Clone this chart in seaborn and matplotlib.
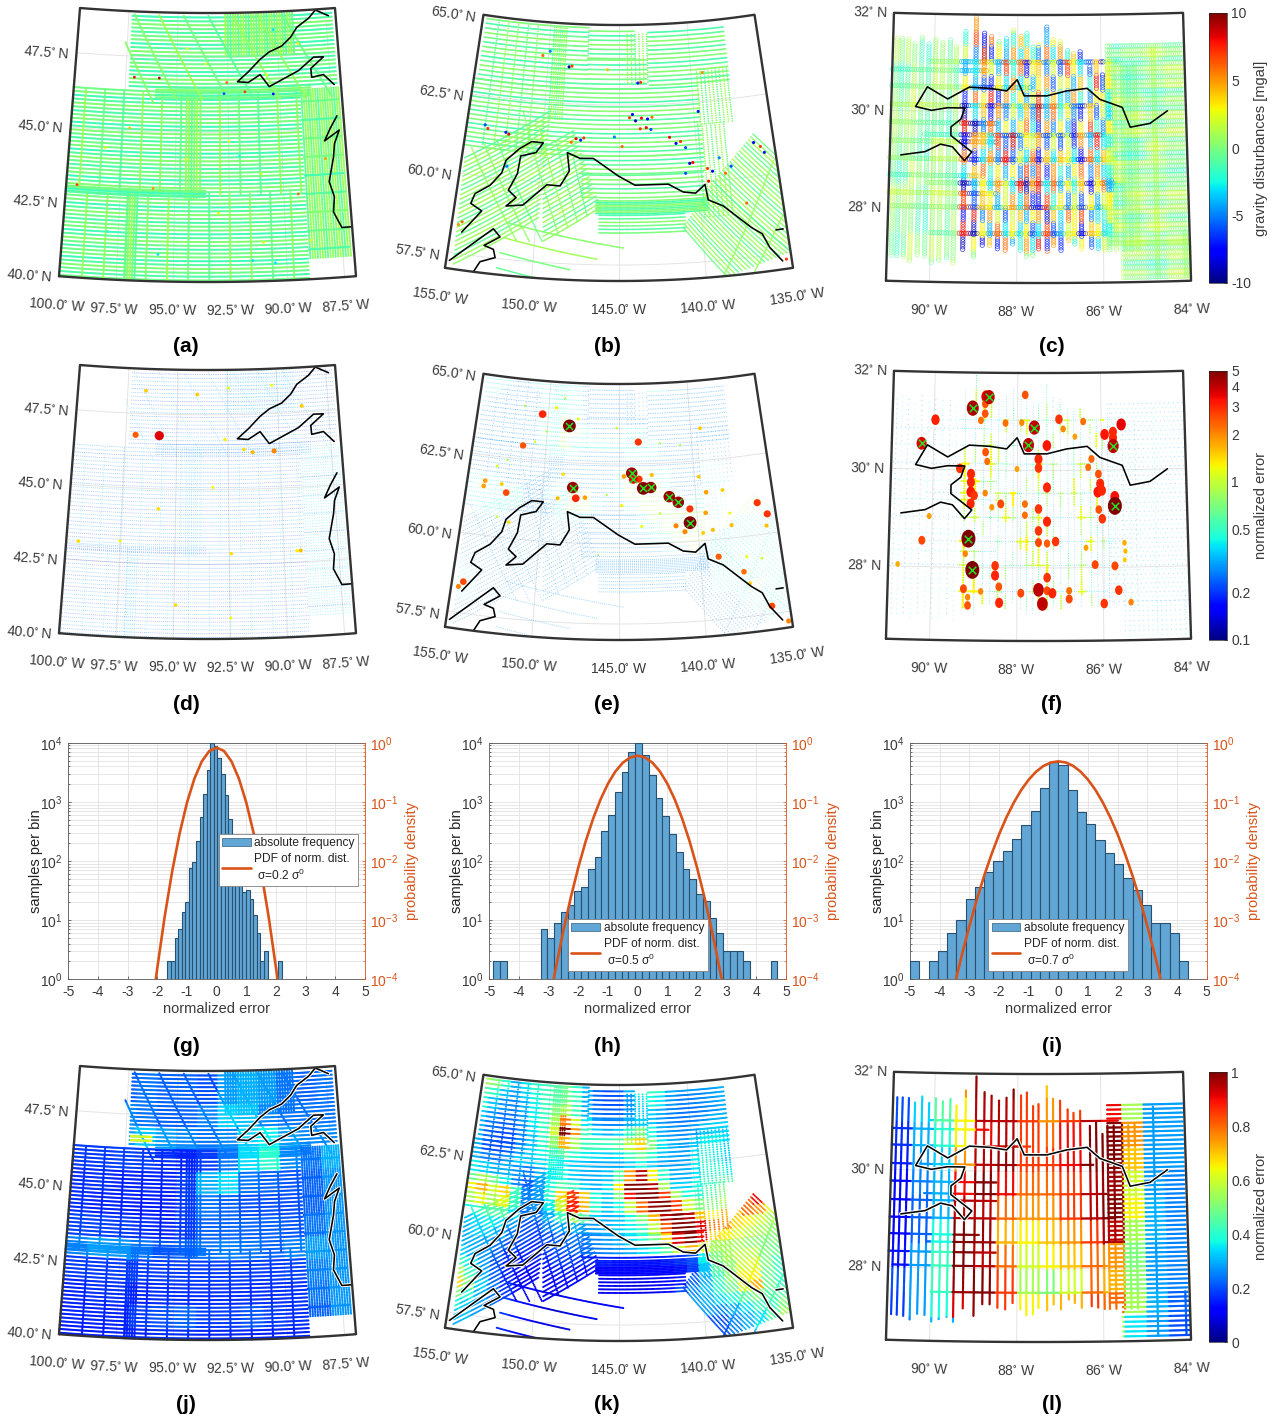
"""Gravity survey figure: four rows of maps and histograms over three survey regions."""

import matplotlib
matplotlib.use("Agg")
import matplotlib.pyplot as plt
import numpy as np
import seaborn as sns
from matplotlib.cm import ScalarMappable
from matplotlib.colors import LogNorm, Normalize
from matplotlib.lines import Line2D
from matplotlib.markers import MarkerStyle
from matplotlib.patches import Patch
from matplotlib.transforms import Affine2D

sns.set_theme(style="ticks")
plt.rcParams.update({
    "font.family": "Liberation Sans",
    "mathtext.fontset": "dejavusans",
    "mathtext.default": "regular",
    "axes.linewidth": 0.6,
    "axes.unicode_minus": False,
    "xtick.direction": "in",
    "ytick.direction": "in",
})

W, H = 1285, 1421
ORANGE = "#D95319"
BAR = "#62A6D6"
TEXT = "#3a3a3a"
JET = matplotlib.colormaps["jet"]


def rows(lat0, lat1, n, west, east):
    return ((west, lat0, east, lat0), (west, lat1, east, lat1), n, 0)


def ties(lon0, lon1, n, south, north):
    return ((lon0, south, lon0, north), (lon1, south, lon1, north), n, 1)


def slants(first, last, n):
    return (first, last, n, 1)


# ---------------------------------------------------------------- map frames
LAKES = {"lon": (-100.0, -87.0), "lat": (40.0, 49.0), "xc": 207.5, "apex": -1619.0, "r": (1901.0, 1632.0), "half": 0.0782}
ALASKA = {"lon": (-155.0, -135.0), "lat": (57.0, 65.0), "xc": 619.0, "apex": -876.0, "r": (1157.0, 901.0), "half": 0.1510}
GULF = {"lon": (-91.0, -84.0), "lat": (26.5, 32.0), "xc": 1038.5, "apex": -4828.0, "r": (5111.0, 4843.0), "half": 0.02985}

LAKE_LON_TICKS = [-100.0, -97.5, -95.0, -92.5, -90.0, -87.5]
LAKE_LAT_TICKS = [40.0, 42.5, 45.0, 47.5]
ALASKA_LON_TICKS = [-155.0, -150.0, -145.0, -140.0, -135.0]
ALASKA_LAT_TICKS = [57.5, 60.0, 62.5, 65.0]
GULF_LON_TICKS = [-90, -88, -86, -84]
GULF_LAT_TICKS = [28, 30, 32]

# ---------------------------------------------------------------- coastlines (lon, lat)
LAKE_COAST_1_LON = [-87.36, -88.01, -88.38, -89.0, -89.32, -89.8, -90.43, -90.9, -91.5, -92.04, -91.51, -90.92, -90.49, -89.03, -88.25, -87.76, -88.42, -88.4, -87.82, -87.33]
LAKE_COAST_1_LAT = [48.76, 48.98, 48.72, 48.44, 48.13, 47.84, 47.66, 47.42, 47.01, 46.69, 46.66, 46.91, 46.5, 46.99, 47.41, 47.4, 47.04, 46.74, 46.81, 46.45]
LAKE_COAST_2_LON = [-87.31, -87.67, -87.98, -87.25, -87.52, -87.61, -87.89, -87.7, -87.79, -87.46, -87.05]
LAKE_COAST_2_LAT = [45.4, 45.0, 44.59, 44.92, 44.48, 44.04, 43.22, 42.7, 42.2, 41.66, 41.66]

ALASKA_COAST_1_LON = [-154.34, -153.32, -154.04, -153.86, -153.0, -152.37, -152.19, -151.42, -150.66, -149.91, -150.33, -151.29, -151.39, -151.85, -151.33, -151.89, -150.88, -149.5, -148.67, -148.14, -148.32, -147.5, -146.64, -145.04, -144.0, -141.92, -141.02, -140.26, -139.64, -139.52, -138.64, -137.08, -136.5, -136.16, -135.53]
ALASKA_COAST_1_LAT = [58.18, 58.92, 59.11, 59.43, 59.75, 60.18, 60.58, 60.98, 61.24, 61.23, 60.91, 60.76, 60.2, 59.66, 59.45, 59.16, 59.24, 59.93, 59.92, 60.4, 60.97, 60.81, 60.82, 60.28, 59.99, 59.99, 59.72, 59.66, 59.91, 59.42, 59.19, 58.42, 58.19, 57.73, 57.26]
ALASKA_COAST_2_LON = [-154.81, -152.5, -152.05, -152.93, -152.36, -152.21, -153.05, -153.36]
ALASKA_COAST_2_LAT = [57.25, 58.41, 58.18, 57.86, 57.77, 57.52, 57.34, 57.0]
ALASKA_COAST_3_LON = [-135.66, -135.23]
ALASKA_COAST_3_LAT = [58.25, 58.25]

GULF_COAST_LON = [-90.74, -90.17, -89.81, -89.53, -89.24, -89.07, -89.57, -89.57, -89.34, -89.25, -89.66, -90.04, -90.42, -90.15, -89.66, -89.15, -88.66, -88.26, -88.01, -87.84, -87.3, -86.83, -86.34, -86.04, -85.51, -85.33, -84.86, -84.44]
GULF_COAST_LAT = [29.09, 29.17, 29.33, 29.28, 29.0, 29.18, 29.51, 29.69, 29.85, 30.08, 30.08, 30.02, 30.09, 30.5, 30.26, 30.51, 30.49, 30.44, 30.67, 30.34, 30.34, 30.44, 30.49, 30.26, 30.09, 29.68, 29.75, 30.0]

# ---------------------------------------------------------------- survey tracks
LAKE_BANDS = [
    rows(40.05, 46.35, 50, -100.0, -89.05),
    rows(46.5, 48.85, 19, -97.3, -87.2),
    ties(-99.0, -89.7, 11, 40.0, 42.95),
    ties(-99.4, -89.2, 12, 42.9, 46.3),
    ties(-97.15, -96.7, 5, 40.0, 42.95),
    ties(-94.5, -94.0, 5, 42.8, 46.3),
    rows(42.85, 43.05, 3, -100.0, -93.6),
    rows(46.15, 46.5, 5, -96.0, -88.5),
    ties(-88.95, -87.15, 17, 40.7, 46.35),
    rows(41.0, 45.95, 9, -89.0, -87.2),
    ties(-92.6, -89.2, 27, 47.6, 48.95),
    slants((-97.2, 48.9, -95.0, 46.1), (-89.7, 48.9, -87.5, 46.1), 7),
    slants((-97.6, 47.95, -96.1, 45.95), (-97.6, 47.95, -96.1, 45.95), 1),
]

ALASKA_BANDS = [
    rows(60.9, 63.0, 16, -154.9, -139.6),
    rows(60.35, 60.9, 5, -147.5, -139.6),
    rows(63.0, 64.9, 14, -154.7, -147.2),
    rows(63.0, 63.9, 7, -147.2, -143.1),
    rows(63.95, 64.8, 7, -147.2, -143.9),
    rows(63.1, 64.75, 13, -142.9, -137.4),
    rows(59.6, 60.3, 6, -147.3, -139.7),
    rows(59.1, 59.5, 9, -146.4, -139.6),
    rows(58.5, 59.05, 6, -146.2, -141.0),
    ties(-144.4, -143.0, 6, 63.2, 64.7),
    ties(-149.7, -148.8, 7, 62.0, 64.85),
    ties(-153.8, -150.9, 5, 61.0, 64.9),
    ties(-139.6, -137.5, 9, 61.8, 63.5),
    ties(-139.8, -138.1, 7, 58.9, 61.8),
    slants((-154.8, 60.5, -149.6, 62.24), (-154.55, 57.16, -149.88, 58.89), 24),
    slants((-149.89, 61.08, -148.0, 61.66), (-149.48, 58.17, -146.16, 59.29), 21),
    slants((-136.25, 61.31, -135.05, 60.59), (-139.11, 59.99, -135.0, 57.53), 18),
    slants((-139.11, 59.99, -135.0, 57.53), (-141.14, 58.61, -138.83, 57.0), 18),
    slants((-151.41, 62.17, -148.62, 58.41), (-147.92, 60.82, -146.96, 59.07), 4),
    slants((-154.46, 60.83, -151.05, 58.1), (-152.9, 61.15, -149.57, 58.17), 3),
    slants((-151.74, 58.65, -144.75, 58.03), (-152.05, 57.21, -149.42, 56.97), 4),
    slants((-139.02, 57.0, -135.22, 60.4), (-137.19, 57.06, -135.1, 58.7), 2),
]

GULF_LINE_LON = [-90.9, -90.77, -90.62, -90.47, -90.3, -90.13, -89.97, -89.8, -89.62, -89.47, -89.25, -89.0, -88.8, -88.63, -88.45, -88.27, -88.1, -87.92, -87.78, -87.63, -87.5, -87.3, -87.15, -86.98, -86.8, -86.66, -86.5, -86.27, -86.12, -85.97, -85.85, -85.7, -85.5, -85.35, -85.2]
GULF_LINE_NORTH = [31.48, 31.48, 31.47, 31.38, 31.51, 31.38, 31.48, 31.42, 31.47, 31.34, 31.65, 31.94, 31.62, 31.55, 31.45, 31.51, 31.68, 31.56, 31.62, 31.34, 31.38, 31.75, 31.49, 31.45, 31.27, 31.2, 31.24, 30.93, 31.0, 30.76, 30.93, 30.93, 30.97, 30.93, 30.97]
GULF_LINE_SOUTH = [27.03, 27.02, 27.0, 26.93, 27.05, 27.03, 26.9, 26.95, 27.0, 26.9, 27.18, 27.03, 27.27, 27.27, 27.2, 27.17, 27.3, 27.17, 27.05, 27.07, 27.2, 27.15, 27.27, 27.17, 27.37, 27.3, 27.2, 27.23, 27.2, 27.17, 27.17, 27.17, 27.17, 27.17, 27.17]
GULF_TIE_LAT = [31.03, 30.85, 30.51, 30.13, 29.77, 29.53, 29.39, 29.03, 28.69, 28.54, 28.33, 28.05, 27.51]
GULF_TIE_WEST = [-90.1, -91.0, -91.0, -91.0, -91.0, -90.2, -91.0, -91.0, -91.0, -90.1, -91.0, -90.9, -90.0]
GULF_TIE_EAST = [-85.6, -88.7, -87.7, -86.2, -88.5, -85.9, -88.5, -85.7, -88.9, -85.5, -88.5, -85.9, -85.9]

GULF_BANDS = [ties(lon, lon, 1, south, north) for lon, south, north in zip(GULF_LINE_LON, GULF_LINE_SOUTH, GULF_LINE_NORTH)]
GULF_BANDS += [rows(lat, lat, 1, west, east) for lat, west, east in zip(GULF_TIE_LAT, GULF_TIE_WEST, GULF_TIE_EAST)]
GULF_BANDS += [
    rows(27.3, 31.35, 45, -85.85, -84.05),
    rows(26.6, 27.3, 8, -85.55, -84.02),
    ties(-84.75, -84.75, 1, 26.6, 31.3),
    ties(-84.1, -84.1, 1, 26.6, 27.5),
]

# small along-track offsets read as the alternation between neighbouring tracks
TRACK_OFFSET = [0.5, -0.8, 0.2, 1.1, -0.4, -1.2, 0.7]

# ---------------------------------------------------------------- gravity disturbance anomalies
A_HOT_LON = [-97.08, -95.86, -92.56, -91.68, -92.7, -90.31, -89.34, -99.5, -94.5, -93.6, -90.6, -89.0, -90.2, -92.5, -94.5, -91.0, -95.7, -90.5, -91.5, -98.0, -97.2, -96.0, -92.0, -98.3, -88.9, -91.0, -93.0, -88.0]
A_HOT_LAT = [46.8, 46.8, 46.67, 46.35, 46.3, 46.25, 42.87, 43.1, 47.8, 47.3, 46.9, 47.9, 48.4, 44.7, 44.1, 43.6, 40.9, 40.6, 40.7, 41.6, 45.1, 43.1, 44.2, 44.4, 41.3, 41.3, 42.3, 44.0]
A_HOT_VAL = [8, 9, 6, 7, -6, -8, 6, 7, 2.5, 2.5, 2.5, 3, -3, 2.5, 2.5, 2.5, -3, -3, -3, -2, 4, 5, -2.5, 3, 2.5, 3, 3, 5]

B_HOT_LON = [-148.5, -148.3, -149.9, -144.1, -144.3, -143.9, -143.5, -143.1, -142.8, -143.6, -142.9, -143.2, -143.7, -143.5, -147.8, -147.5, -148.1, -147.3, -141.7, -141.3, -141.0, -140.7, -140.5, -140.3, -140.8, -139.4, -139.1, -139.4, -138.6, -138.3, -137.9, -136.3, -135.9, -135.7, -137.2, -153.8, -153.6, -152.4, -152.2, -154.4, -154.6, -135.3, -152.1, -139.7, -139.2, -150.4, -145.8, -145.3, -144.8]
B_HOT_LAT = [63.65, 63.68, 64.1, 62.2, 62.1, 62.0, 62.08, 62.05, 62.1, 61.75, 61.72, 61.78, 63.18, 63.2, 61.42, 61.38, 61.3, 61.45, 61.45, 61.25, 61.3, 61.1, 60.6, 60.62, 60.3, 60.4, 60.3, 60.0, 60.7, 60.2, 60.4, 61.05, 60.9, 60.7, 59.2, 61.6, 61.5, 61.45, 61.4, 58.5, 58.4, 57.3, 60.4, 62.2, 63.4, 63.95, 63.6, 61.5, 61.2]
B_HOT_VAL = [-10, 7, -5, -8, 7, -9, 8, -8, 6, 7, -6, 8, -7, 7, 8, -7, 6, 7, 8, -8, 7, -6, -9, 8, -6, 7, -8, 8, -5, 6, -6, -8, 7, -7, 6, -6, 7, -7, 8, 6, 5, 7, -5, -7, 5, 6, 4, -5, 6]

# panel (c): one column per survey line between -89.25 and -85.85, one row every 0.3 deg of latitude from 31.8
C_GRID = np.array([
    [0, 5, -3, 0, 0, 0, 3, 0, 0, 0, 0, -5, 0, 0, 0, 0, 0, 0, 0, 0, 0],
    [-2, 7, -8, 6, 0, -3, -2, 4, -2, 1, 3, -4, 3, 2, 0, 0, 0, 0, 0, 0, 0],
    [2, -5, 9, -7, 3, -4, 5, -3, 4, -2, -5, 6, -3, 5, -2, 4, -7, 0, 0, 0, 0],
    [-4, -3, 5, 2, -4, 7, -2, 6, -8, 3, 4, -5, 2, -6, 7, 3, -3, -6, 4, -8, 2],
    [3, -4, -6, -7, 3, -3, 5, -3, 2, -4, 3, 5, -6, 2, 3, -4, 4, -2, 8, -6, 3],
    [-7, 6, 3, 8, -7, 5, -2, 3, -4, 2, 7, -3, 4, -3, -4, 5, -2, -5, 3, 3, -2],
    [-9, -3, 4, -8, 5, -5, 2, -3, 4, -5, 9, -4, 6, -2, 3, -5, -7, 4, -6, 2, -3],
    [8, -9, -5, 6, -4, 3, -4, 3, 6, -3, -7, 5, -5, 3, -4, -8, 3, 7, -2, -5, 3],
    [-8, 5, 4, -3, 7, -6, 9, -5, 3, 2, 5, -6, 2, -6, 2, -7, 5, -4, 8, -3, -2],
    [6, -7, -3, 5, -5, 8, -6, 2, -3, 6, -8, 4, -3, 4, 3, -3, -8, 6, -3, 4, 2],
    [-3, 4, 6, -2, 3, -4, 3, -5, 7, -5, 7, -7, 5, -2, -4, 3, 6, -5, 5, -3, -2],
    [-9, -4, 3, -3, 5, 2, -3, 8, -9, 5, 8, -3, 6, -4, 3, -2, 4, -8, 3, 6, -4],
    [7, -6, 4, 3, -4, 2, 5, -3, 6, -7, -8, 7, -2, 3, -5, 2, -6, 3, -4, 2, 3],
    [-8, 8, -5, 5, 2, -6, 2, 4, -4, 3, 5, -9, 4, -3, 6, 3, 7, -5, -3, -2, 2],
    [8, -9, 3, -4, 6, -3, 3, -3, 3, -6, -3, 7, -6, -4, 2, 3, -8, 4, 3, -3, -2],
    [-9, 3, -8, 4, -7, 6, -4, -2, 5, -3, 8, -7, 5, -7, 4, -2, 3, -6, -3, 2, 0],
    [6, 0, 0, 0, 0, -5, 3, 0, 0, 0, -5, 6, 0, 0, 0, 0, 0, 0, 0, 0, 0],
])
C_PALE = np.array([
    [0, 1, -1, 0, 1, 0, 0, 1, 0, -1, 0, 1, 0, -1],
    [1, -1, 0, 1, 0, 0, -1, 0, 1, 0, -1, 0, 1, 0],
    [-1, 0, 1, -1, 0, 1, 0, 0, -1, 1, 0, -1, 0, 1],
    [0, 1, 0, 1, -1, 0, 1, -1, 0, 0, 1, 0, -1, 0],
    [1, 0, -1, 0, 1, -1, 0, 1, 0, -1, 0, 1, 0, 1],
    [0, -1, 1, 1, 0, 0, -1, 0, 1, 1, 0, -1, 1, 0],
    [-1, 1, 0, -1, 1, 1, 0, -1, 0, 0, 1, 0, 0, -1],
    [1, 0, 1, 0, -1, 0, 1, 0, -1, 1, -1, 1, 0, 1],
    [0, -1, 0, 1, 0, -1, 0, 1, 1, 0, 1, 0, 1, 0],
    [-1, 1, 1, 0, -1, 0, 1, 0, 0, -1, 0, 1, 0, 1],
    [1, 0, -1, 1, 0, 1, -1, 1, 0, 1, 1, 0, -1, 1],
])

# ---------------------------------------------------------------- normalized error dots
D_HOT_LON = [-95.86, -97.02, -90.27, -91.31, -91.73, -92.65, -89.23, -89.4, -99.45, -97.53, -96.59, -94.01, -92.45, -90.26, -88.81, -93.25, -95.81, -92.41, -94.92, -92.47]
D_HOT_LAT = [46.78, 46.78, 46.25, 46.23, 46.33, 46.67, 42.88, 42.88, 43.12, 43.21, 48.27, 48.18, 48.39, 48.45, 47.71, 45.07, 44.33, 42.85, 41.13, 40.7]
D_HOT_VAL = [3.6, 2.4, 2.0, 1.6, 1.4, 1.3, 1.6, 1.3, 1.4, 1.2, 1.5, 1.5, 1.2, 1.2, 1.5, 1.2, 1.4, 1.4, 1.4, 1.2]

E_CROSS_LON = [-148.48, -144.15, -144.05, -143.4, -142.91, -148.05, -141.72, -141.15, -140.48]
E_CROSS_LAT = [63.65, 62.21, 62.02, 61.73, 61.75, 61.73, 61.44, 61.25, 60.59]
E_CROSS_VAL = [5, 4.5, 3.5, 5, 4.5, 4.5, 4.5, 4.5, 5]
E_HOT_LON = [-150.42, -151.58, -143.67, -147.82, -152.37, -153.83, -153.88, -152.72, -143.67, -142.82, -135.54, -136.08, -140.43, -141.38, -140.84, -139.3, -139.44, -139.08, -138.22, -137.87, -138.87, -137.43, -136.03, -135.2, -154.32, -154.57, -147.22, -149.0, -148.72, -144.67, -139.7, -139.34, -152.0, -137.15, -135.69, -149.46, -147.88, -145.16, -142.17, -140.8, -144.83, -142.37, -145.8, -143.56, -137.9, -137.16, -136.25, -152.54, -153.17, -152.8, -150.03, -150.78, -151.72, -148.9, -146.28, -139.7, -140.6]
E_HOT_LAT = [63.96, 62.93, 63.18, 61.4, 61.41, 61.7, 61.53, 61.66, 62.02, 62.14, 60.61, 61.0, 61.02, 60.52, 60.32, 61.5, 60.86, 60.31, 61.52, 60.4, 59.46, 58.91, 57.74, 57.2, 58.48, 58.31, 61.43, 61.37, 62.13, 62.11, 62.0, 63.51, 60.5, 58.53, 60.25, 64.19, 63.88, 63.62, 63.12, 63.03, 61.2, 60.93, 61.53, 60.54, 60.78, 59.37, 59.26, 62.43, 62.2, 60.63, 63.43, 63.08, 64.17, 64.5, 59.65, 60.24, 60.5]
E_HOT_VAL = [3, 2.5, 2.8, 3, 2.6, 1.8, 1.8, 1.5, 2.8, 1.6, 2.8, 2.8, 2.8, 2, 2, 1.8, 1.8, 1.6, 1.5, 1.6, 2.4, 2.2, 2.6, 2, 2.6, 2, 1.8, 1.6, 1.4, 1.8, 1.5, 1.5, 1.4, 1.5, 1.6, 1.3, 1.2, 1.0, 0.9, 0.9, 1.3, 1.0, 0.9, 1.2, 1.2, 1.2, 1.1, 0.9, 1.1, 1.0, 0.9, 1.0, 0.9, 0.9, 0.8, 1.5, 1.5]

F_CROSS_LON = [-89.14, -89.04, -85.7, -89.08, -88.69, -90.29, -87.6, -87.74, -85.72]
F_CROSS_LAT = [28.59, 27.95, 29.26, 31.27, 31.5, 30.53, 30.88, 30.52, 30.49]
F_CROSS_VAL = [5, 5, 5, 4.3, 4, 3.6, 4, 4, 4]
F_HOT_LON = [-88.76, -89.97, -85.52, -85.92, -85.72, -85.72, -87.5, -87.5, -87.3, -87.5, -87.3, -87.5, -87.5, -87.3, -87.1, -87.01, -87.3, -87.82, -88.78, -88.78, -88.88, -89.1, -89.1, -89.1, -89.1, -89.02, -88.76, -88.72, -88.29, -87.9, -90.23, -89.22, -89.21, -88.51, -88.51, -88.42, -88.41, -89.14, -87.5, -87.41, -87.3, -87.3, -87.18, -86.79, -86.79, -87.91, -85.64, -85.98, -85.36, -85.72, -86.18, -86.39, -86.04, -86.1, -86.0, -86.08, -86.0, -86.08, -85.7, -86.24, -86.32, -86.91, -86.43, -86.63, -88.76, -88.39, -87.82, -87.82, -88.6, -89.37, -89.24, -89.14, -88.84, -90.07, -90.78, -88.01, -85.49, -85.47, -85.49]
F_HOT_LAT = [31.51, 31.02, 30.93, 30.73, 30.78, 30.66, 30.23, 30.05, 29.65, 29.21, 28.95, 28.76, 28.52, 28.5, 28.54, 31.05, 30.51, 31.55, 31.36, 31.16, 31.02, 29.92, 29.75, 29.55, 29.31, 29.48, 30.37, 30.18, 30.97, 30.98, 28.54, 28.49, 28.28, 28.04, 27.84, 27.61, 27.28, 27.22, 27.55, 27.26, 27.8, 27.53, 27.48, 27.36, 27.53, 27.48, 27.53, 27.26, 27.28, 28.03, 28.06, 28.41, 29.72, 29.55, 29.58, 29.92, 29.0, 29.19, 29.45, 30.23, 30.06, 30.85, 31.0, 30.69, 29.53, 29.31, 29.31, 29.08, 29.24, 30.03, 27.56, 27.39, 27.51, 29.04, 28.04, 30.03, 28.5, 28.33, 28.15]
F_HOT_VAL = [3.6, 3.1, 3.5, 3.2, 3, 3, 3, 2.8, 3, 2.8, 3, 2.8, 2.6, 2.4, 2.8, 2.8, 3.2, 2.5, 2.5, 2.5, 2.2, 3, 3, 3.2, 3, 2.8, 2.5, 2.2, 2.2, 2, 2.6, 2, 2, 2.8, 3, 2.5, 3, 2.5, 4, 4, 2.8, 2.6, 3, 2.6, 2.2, 2.6, 2.8, 2.8, 2, 2.6, 2.6, 1.8, 3, 3.2, 3, 2.5, 2.8, 2.5, 3.3, 2.3, 2.2, 2, 2.2, 1.8, 2, 2.6, 2.2, 2.2, 1.9, 2.8, 2.6, 2, 2, 1.8, 1.7, 1.8, 1.7, 1.6, 1.5]
# |gravity disturbance| 0..10 -> typical error seen on the central lines of panel (f)
F_LEVELS = [0.3, 0.3, 0.3, 0.32, 0.4, 0.6, 0.8, 1.0, 1.15, 1.3, 1.5]

# ---------------------------------------------------------------- formal errors, cells read off (j), (k), (l)
# rows from north to south, columns from west to east
J_GRID = np.array([
    [.22, .22, .22, .24, .22, .22, .20, .28, .30, .28, .24, .22, .24],
    [.24, .26, .26, .24, .22, .22, .25, .33, .32, .26, .24, .24, .24],
    [.28, .28, .28, .32, .28, .26, .24, .26, .33, .36, .28, .26, .26],
    [.18, .18, .19, .18, .17, .16, .18, .24, .34, .40, .26, .24, .30],
    [.17, .17, .16, .16, .16, .18, .30, .34, .24, .22, .21, .22, .27],
    [.17, .16, .16, .15, .15, .18, .24, .22, .20, .20, .20, .22, .27],
    [.19, .19, .18, .17, .16, .18, .22, .22, .22, .22, .21, .24, .27],
    [.25, .28, .27, .24, .21, .22, .24, .25, .24, .22, .25, .28, .27],
    [.18, .18, .18, .18, .18, .18, .18, .18, .18, .18, .19, .25, .27],
    [.16, .17, .17, .16, .17, .17, .17, .17, .17, .17, .17, .24, .27],
    [.16, .16, .16, .18, .20, .22, .18, .18, .21, .18, .17, .22, .27],
    [.15, .15, .16, .16, .17, .17, .16, .16, .16, .16, .16, .22, .22],
])
# rows every 1/3 deg from 64.83 N, columns every 0.75 deg from 154.75 W
K_GRID = np.array([
    [.55, .5, .4, .3, .35, .4, .42, .45, .48, .4, .3, .22, .2, .22, .3, .38, .42, .4, .3, .28, .28, .28, .28, .3, .3, .3, .3],
    [.45, .4, .32, .28, .33, .38, .42, .45, .48, .42, .3, .22, .2, .2, .27, .35, .38, .35, .28, .25, .25, .26, .28, .3, .3, .3, .3],
    [.4, .32, .27, .25, .3, .36, .42, .5, .55, .42, .3, .24, .22, .22, .27, .33, .33, .3, .26, .24, .24, .25, .27, .3, .3, .3, .3],
    [.33, .27, .24, .24, .28, .36, .42, .55, .78, .6, .35, .27, .25, .26, .3, .33, .32, .28, .25, .24, .25, .27, .3, .3, .3, .3, .3],
    [.3, .24, .22, .22, .26, .34, .42, .6, 1.0, .75, .42, .33, .3, .33, .42, .5, .38, .3, .27, .26, .28, .32, .33, .33, .3, .3, .3],
    [.3, .22, .2, .2, .25, .32, .4, .52, .72, .55, .42, .42, .42, .45, .58, .68, .5, .35, .3, .28, .32, .36, .36, .34, .3, .3, .3],
    [.3, .2, .2, .22, .28, .33, .37, .42, .45, .4, .36, .34, .33, .35, .42, .48, .4, .32, .29, .28, .34, .38, .36, .33, .3, .3, .3],
    [.3, .25, .24, .28, .33, .32, .35, .38, .36, .33, .32, .3, .3, .3, .33, .38, .33, .29, .28, .29, .36, .4, .36, .33, .3, .3, .3],
    [.36, .33, .3, .3, .27, .25, .3, .36, .38, .33, .3, .3, .32, .45, .75, .95, .65, .4, .3, .3, .35, .4, .4, .36, .35, .35, .35],
    [.48, .55, .48, .36, .25, .22, .28, .38, .45, .42, .33, .3, .35, .65, 1.0, 1.0, .95, .55, .33, .33, .38, .42, .45, .45, .45, .5, .5],
    [.65, .72, .6, .68, .42, .25, .28, .4, .68, .85, .7, .38, .33, .5, .9, 1.0, 1.0, .85, .55, .38, .4, .45, .5, .55, .6, .7, .75],
    [.55, .62, .55, .62, .42, .25, .27, .36, .6, .88, .72, .4, .32, .38, .58, .8, .98, 1.0, .85, .6, .5, .5, .55, .65, .8, .9, .75],
    [.38, .42, .45, .45, .35, .24, .24, .3, .42, .55, .45, .33, .3, .32, .38, .5, .72, .95, 1.0, .95, .7, .65, .72, .7, .8, .75, .62],
    [.32, .34, .36, .34, .28, .2, .2, .25, .28, .3, .28, .28, .3, .33, .36, .42, .58, .82, 1.0, 1.0, .92, .78, .75, .68, .65, .6, .55],
    [.3, .33, .33, .3, .24, .2, .18, .2, .22, .24, .24, .26, .28, .3, .34, .38, .48, .68, .92, 1.0, .9, .68, .65, .62, .58, .55, .52],
    [.3, .3, .28, .24, .2, .18, .16, .18, .2, .22, .23, .24, .25, .27, .3, .34, .38, .46, .6, .72, .62, .55, .55, .55, .52, .5, .5],
    [.33, .3, .27, .22, .17, .15, .15, .16, .18, .18, .17, .15, .15, .14, .14, .14, .14, .15, .17, .2, .36, .5, .55, .58, .58, .5, .48],
    [.42, .36, .28, .2, .15, .14, .13, .14, .15, .15, .13, .12, .11, .11, .11, .11, .11, .12, .14, .18, .32, .45, .52, .6, .62, .5, .42],
    [.55, .42, .3, .22, .16, .13, .12, .12, .13, .13, .12, .1, .1, .09, .09, .09, .1, .11, .15, .22, .3, .42, .52, .65, .65, .48, .42],
    [.68, .5, .33, .24, .17, .13, .11, .1, .09, .1, .1, .1, .1, .1, .1, .1, .1, .14, .2, .26, .32, .4, .48, .6, .72, .48, .42],
    [.5, .4, .3, .24, .18, .14, .11, .09, .08, .09, .1, .1, .11, .12, .12, .13, .15, .18, .24, .28, .3, .34, .38, .45, .5, .45, .45],
    [.38, .33, .28, .24, .18, .14, .11, .08, .07, .08, .09, .1, .12, .14, .15, .17, .2, .24, .28, .28, .28, .26, .3, .35, .42, .42, .5],
    [.32, .32, .28, .24, .18, .14, .11, .09, .08, .08, .09, .1, .12, .14, .16, .18, .22, .25, .28, .22, .2, .2, .26, .3, .35, .45, .55],
    [.3, .3, .25, .22, .16, .13, .1, .08, .08, .08, .09, .1, .12, .14, .16, .18, .2, .22, .24, .2, .18, .2, .25, .3, .36, .48, .6],
])
L_GRID = np.array([
    [.20, .35, .45, .75, .98, 1.0, .85, .70, .80, .90, .95, .80, .28, .28],
    [.20, .33, .45, .65, .95, .95, .85, .75, .85, .95, .90, .55, .28, .28],
    [.17, .30, .40, .65, .90, .95, .85, .80, .90, 1.0, 1.0, .75, .28, .28],
    [.15, .28, .33, .75, .95, .98, .85, .85, .90, 1.0, 1.0, .70, .28, .28],
    [.13, .25, .30, .90, 1.0, .90, .80, .80, .85, .95, .98, .60, .28, .25],
    [.12, .22, .30, .95, .95, .80, .75, .75, .85, .95, 1.0, .65, .30, .25],
    [.12, .22, .38, 1.0, .98, .72, .65, .70, .75, .85, .95, .55, .30, .25],
    [.14, .28, .42, 1.0, .95, .80, .60, .65, .70, .80, .75, .50, .28, .25],
    [.20, .28, .42, .98, 1.0, .85, .55, .50, .60, .80, .72, .52, .28, .25],
    [.18, .28, .38, .92, .98, .85, .65, .70, .72, .85, .80, .55, .30, .22],
    [.20, .25, .30, .30, .30, .30, .30, .30, .30, .30, .55, .35, .28, .20],
])

# ---------------------------------------------------------------- histograms
G_START, G_WIDTH = -1.66, 0.1205
G_COUNTS = [2, 2, 5, 7, 14, 20, 75, 97, 218, 545, 1350, 3400, 9800, 8900, 5500, 2900, 1300, 510, 220, 110, 60, 30, 32, 23, 12, 6, 2, 3, 0, 0, 0, 2]
H_START, H_WIDTH = -4.87, 0.228
H_COUNTS = [2, 2, 0, 0, 0, 0, 0, 7, 5, 9, 14, 18, 31, 36, 72, 117, 316, 590, 1450, 3150, 7000, 9700, 6300, 2800, 1170, 570, 290, 140, 73, 50, 28, 21, 11, 6, 3, 3, 3, 2, 0, 0, 0, 2]
I_START, I_WIDTH = -5.0, 0.3125
I_COUNTS = [2, 0, 2, 3, 6, 10, 23, 37, 66, 100, 145, 240, 410, 700, 1700, 4700, 4200, 1600, 670, 430, 230, 135, 90, 52, 32, 18, 9, 9, 6, 2]

G_PDF_X = [0, .25, .5, .75, 1, 1.25, 1.5, 1.75, 2, 2.05]
G_PDF_Y = [.826, .723, .483, .247, .0968, .029, .00664, .00116, .000156, .0001]
H_PDF_X = [0, .25, .5, .75, 1, 1.25, 1.5, 1.75, 2, 2.25, 2.5, 2.75, 2.83]
H_PDF_Y = [.603, .563, .459, .327, .203, .11, .0522, .0216, .0078, .00246, .000676, .000162, .0001]
I_PDF_X = [0, .25, .5, .75, 1, 1.25, 1.5, 1.75, 2, 2.25, 2.5, 2.75, 3, 3.25, 3.45]
I_PDF_Y = [.484, .463, .405, .324, .237, .159, .0973, .0546, .028, .0131, .00562, .00221, .000794, .00026, .0001]


# --------------------------------------------------------------------------
# Helpers
# --------------------------------------------------------------------------

def project(geo, lon, lat, dy=0.0):
    lon, lat = np.asarray(lon, float), np.asarray(lat, float)
    lon_mid = sum(geo["lon"]) / 2
    half_lon = (geo["lon"][1] - geo["lon"][0]) / 2
    theta = (lon - lon_mid) / half_lon * geo["half"]
    frac = (lat - geo["lat"][0]) / (geo["lat"][1] - geo["lat"][0])
    r = geo["r"][0] - frac * (geo["r"][0] - geo["r"][1])
    return geo["xc"] + r * np.sin(theta), geo["apex"] + dy + r * np.cos(theta)


def track_points(geo, bands, step):
    lon_out, lat_out, kind_out, id_out = [], [], [], []
    track_id = 0
    for first, last, n, kind in bands:
        for lon0, lat0, lon1, lat1 in np.linspace(first, last, n):
            npts = max(2, int(np.hypot(lon1 - lon0, lat1 - lat0) / step))
            lon_out.append(np.linspace(lon0, lon1, npts))
            lat_out.append(np.linspace(lat0, lat1, npts))
            kind_out.append(np.full(npts, kind))
            id_out.append(np.full(npts, track_id))
            track_id += 1
    lon, lat = np.concatenate(lon_out), np.concatenate(lat_out)
    kind, ids = np.concatenate(kind_out), np.concatenate(id_out)
    keep = (lon >= geo["lon"][0]) & (lon <= geo["lon"][1]) & (lat >= geo["lat"][0]) & (lat <= geo["lat"][1])
    return lon[keep], lat[keep], kind[keep], ids[keep]


def cell_values(grid, lat_north, dlat, lon_west, dlon, lat, lon):
    i = np.clip(np.round((lat_north - lat) / dlat).astype(int), 0, grid.shape[0] - 1)
    j = np.clip(np.round((lon - lon_west) / dlon).astype(int), 0, grid.shape[1] - 1)
    return grid[i, j]


def px_axes(fig, left, right, top, bottom):
    return fig.add_axes([left / W, 1 - bottom / H, (right - left) / W, (bottom - top) / H])


def dots(ax, geo, dy, lon, lat, val, norm, s=1.0, alpha=1.0, **kws):
    x, y = project(geo, lon, lat, dy)
    sns.scatterplot(x=x, y=y, hue=np.round(val, 3), palette=JET, hue_norm=norm, s=s, alpha=alpha,
                    linewidth=0, legend=False, ax=ax, **kws)


def rings(ax, geo, dy, lon, lat, val, norm, s, alpha=1.0):
    # the gravity points of panel (c) are open circles
    dots(ax, geo, dy, lon, lat, val, norm, s=s, alpha=alpha)
    points = ax.collections[-1]
    points.set_edgecolors(points.get_facecolors())
    points.set_facecolor("none")
    points.set_linewidth(0.45)


def sized_dots(ax, geo, dy, lon, lat, val, norm, smax, marker="o"):
    x, y = project(geo, lon, lat, dy)
    val = np.asarray(val, float)
    sns.scatterplot(x=x, y=y, hue=val, palette=JET, hue_norm=norm, size=val ** 2, sizes=(0, smax),
                    size_norm=(0, 25), marker=marker, linewidth=0, legend=False, ax=ax, zorder=4)


def crosses(ax, geo, dy, lon, lat, s=26):
    x, y = project(geo, lon, lat, dy)
    sns.scatterplot(x=x, y=y, marker="x", color="#22E022", s=s, linewidth=1.1, legend=False, ax=ax, zorder=5)


def draw_graticule(ax, geo, dy, lon_ticks, lat_ticks):
    west, east = geo["lon"]
    south, north = geo["lat"]
    for lon in lon_ticks:
        x, y = project(geo, np.full(20, lon), np.linspace(south, north, 20), dy)
        ax.plot(x, y, color="#e4e4e4", lw=0.7, zorder=1)
    for lat in lat_ticks:
        x, y = project(geo, np.linspace(west, east, 40), np.full(40, lat), dy)
        ax.plot(x, y, color="#e4e4e4", lw=0.7, zorder=1)


def draw_frame(ax, geo, dy, lon_ticks, lat_ticks, fmt, lat_offset):
    west, east = geo["lon"]
    south, north = geo["lat"]
    edge_lon = np.r_[np.linspace(west, east, 60), np.linspace(east, west, 60), west]
    edge_lat = np.r_[np.full(60, south), np.full(60, north), south]
    x, y = project(geo, edge_lon, edge_lat, dy)
    sns.lineplot(x=x, y=y, sort=False, estimator=None, color="#333333", lw=1.7, ax=ax, zorder=6)
    half_lon = (east - west) / 2
    lon_mid = (east + west) / 2
    for lon in lon_ticks:
        x, y = project(geo, lon, south, dy)
        theta = (lon - lon_mid) / half_lon * geo["half"]
        ax.text(x + 29 * np.sin(theta), y + 29 * np.cos(theta), fmt.format(abs(lon)) + r"$^{\circ}$ W",
                fontsize=10, color=TEXT, ha="center", va="center", rotation=np.degrees(theta), rotation_mode="anchor")
    theta = -geo["half"]
    for lat in lat_ticks:
        x, y = project(geo, west, lat, dy)
        ax.text(x - lat_offset, y, fmt.format(lat) + r"$^{\circ}$ N",
                fontsize=10, color=TEXT, ha="center", va="center", rotation=np.degrees(theta), rotation_mode="anchor")


def draw_coast(ax, geo, dy, coasts, halo=False):
    for lon, lat in coasts:
        x, y = project(geo, lon, lat, dy)
        if halo:
            sns.lineplot(x=x, y=y, sort=False, estimator=None, color="white", lw=2.6, ax=ax, zorder=5)
        sns.lineplot(x=x, y=y, sort=False, estimator=None, color="black", lw=1.15, ax=ax, zorder=5.5)


def draw_hist(fig, box, start, width, counts, pdf_x, pdf_y, variance, legend_box):
    ax = px_axes(fig, *box)
    edges = start + width * np.arange(len(counts) + 1)
    centers = (edges[:-1] + edges[1:]) / 2
    sns.histplot(x=centers, weights=counts, bins=list(edges), log_scale=(False, True), color=BAR, alpha=1.0,
                 edgecolor="#28506F", linewidth=0.8, ax=ax, zorder=3)
    # bars start at zero, which the log axis masks: start them below the axis instead
    for bar in ax.patches:
        top = bar.get_y() + bar.get_height()
        if top <= 0:
            bar.set_visible(False)
        else:
            bar.set_y(0.5)
            bar.set_height(top - 0.5)
    ax.set_xlim(-5, 5)
    ax.set_ylim(1, 1e4)
    ax.set_xticks(range(-5, 6))
    ax.grid(which="both", color="#e2e2e2", lw=0.6, zorder=0)
    ax.set_axisbelow(True)
    ax.tick_params(labelsize=10, colors=TEXT, which="both", length=2.5, width=0.5, pad=4)
    ax.tick_params(which="minor", length=1.5)
    ax.set_xlabel("normalized error", fontsize=10.5, color=TEXT, labelpad=2)
    ax.set_ylabel("samples per bin", fontsize=10.5, color="#222222", labelpad=-2)
    for side in ["left", "bottom", "top"]:
        ax.spines[side].set_color("#5a5a5a")
    ax.spines["right"].set_visible(False)

    right = ax.twinx()
    right.set_yscale("log")
    curve_x = np.r_[-np.array(pdf_x[:0:-1]), pdf_x]
    curve_y = np.r_[pdf_y[:0:-1], pdf_y]
    sns.lineplot(x=curve_x, y=curve_y, sort=False, estimator=None, color=ORANGE, lw=1.9, ax=right)
    right.set_ylim(1e-4, 1)
    right.grid(False)
    right.set_ylabel("probability density", fontsize=10.5, color=ORANGE, labelpad=5)
    right.tick_params(axis="y", which="both", colors=ORANGE, labelsize=10, length=2.5, width=0.5)
    right.tick_params(axis="y", which="minor", length=1.5)
    right.spines["right"].set_color(ORANGE)
    right.spines["left"].set_visible(False)
    right.spines["top"].set_visible(False)
    right.spines["bottom"].set_visible(False)

    handles = [Patch(facecolor=BAR, edgecolor="#4a6f8c", lw=0.6), Line2D([0], [0], color=ORANGE, lw=1.9)]
    labels = ["absolute frequency", "PDF of norm. dist.\n " + rf"$\sigma$={variance} $\sigma^0$"]
    cx, cy = legend_box
    right.legend(handles, labels, loc="center", bbox_to_anchor=(cx / W, 1 - cy / H), bbox_transform=fig.transFigure,
                 fontsize=8.6, fancybox=False, framealpha=1, edgecolor="#808080", borderpad=0.3,
                 handlelength=2.4, handletextpad=0.3, labelspacing=0.3, labelcolor="#222222").get_frame().set_linewidth(0.6)


def draw_colorbar(base, fig, box, norm, ticks, labels, title):
    cax = px_axes(fig, *box)
    bar = fig.colorbar(ScalarMappable(norm=norm, cmap="jet"), cax=cax)
    bar.set_ticks(ticks)
    bar.set_ticklabels(labels)
    cax.minorticks_off()
    cax.tick_params(labelsize=10, colors=TEXT, length=2.5, width=0.5, direction="in", pad=3)
    bar.outline.set_linewidth(0.5)
    base.text(1261, (box[2] + box[3]) / 2, title, rotation=90, fontsize=10.5, color=TEXT, ha="center", va="center")


# --------------------------------------------------------------------------
# Figure
# --------------------------------------------------------------------------

def main():
    fig = plt.figure(figsize=(W / 100, H / 100), dpi=100)
    base = fig.add_axes([0, 0, 1, 1])

    lake_coasts = [(LAKE_COAST_1_LON, LAKE_COAST_1_LAT), (LAKE_COAST_2_LON, LAKE_COAST_2_LAT)]
    alaska_coasts = [(ALASKA_COAST_1_LON, ALASKA_COAST_1_LAT), (ALASKA_COAST_2_LON, ALASKA_COAST_2_LAT), (ALASKA_COAST_3_LON, ALASKA_COAST_3_LAT)]
    gulf_coasts = [(GULF_COAST_LON, GULF_COAST_LAT)]

    grav_norm = Normalize(-10, 10)
    err_norm = LogNorm(0.1, 5)
    rel_norm = Normalize(0, 1)
    offsets = np.array(TRACK_OFFSET)

    columns = [
        (LAKES, [0, 357, 1058], LAKE_LON_TICKS, LAKE_LAT_TICKS, "{:.1f}", 30),
        (ALASKA, [0, 359, 1060], ALASKA_LON_TICKS, ALASKA_LAT_TICKS, "{:.1f}", 30),
        (GULF, [0, 358, 1059], GULF_LON_TICKS, GULF_LAT_TICKS, "{:d}", 24),
    ]
    for geo, shifts, lon_ticks, lat_ticks, fmt, lat_offset in columns:
        for dy in shifts:
            draw_graticule(base, geo, dy, lon_ticks, lat_ticks)
            draw_frame(base, geo, dy, lon_ticks, lat_ticks, fmt, lat_offset)

    # --- lakes column
    dy_a, dy_d, dy_j = columns[0][1]
    lon, lat, kind, ids = track_points(LAKES, LAKE_BANDS, 0.05)
    dots(base, LAKES, dy_a, lon, lat, np.where(kind == 0, -0.6, 0.2) + offsets[ids % 7] * 0.7, grav_norm, s=2.2)
    dots(base, LAKES, dy_a, A_HOT_LON, A_HOT_LAT, np.array(A_HOT_VAL, float), grav_norm, s=4, zorder=3)
    dots(base, LAKES, dy_j, lon, lat, cell_values(J_GRID, 48.25, 0.75, -99.5, 1.0, lat, lon), rel_norm, s=2.4)
    yellow = (kind == 0) & (lat > 46.55) & (lat < 46.8) & (lon > -97.3) & (lon < -96.2)
    dots(base, LAKES, dy_j, lon[yellow], lat[yellow], np.full(yellow.sum(), 0.62), rel_norm, s=2.6, zorder=3)
    lon, lat, kind, ids = track_points(LAKES, LAKE_BANDS, 0.09)
    dots(base, LAKES, dy_d, lon, lat, np.where(kind == 0, 0.25, 0.38) + offsets[ids % 7] * 0.04, err_norm, s=0.5, alpha=0.38)
    sized_dots(base, LAKES, dy_d, D_HOT_LON, D_HOT_LAT, D_HOT_VAL, err_norm, 85)
    draw_coast(base, LAKES, dy_a, lake_coasts)
    draw_coast(base, LAKES, dy_d, lake_coasts)
    draw_coast(base, LAKES, dy_j, lake_coasts, halo=True)

    # --- alaska column
    dy_b, dy_e, dy_k = columns[1][1]
    lon, lat, kind, ids = track_points(ALASKA, ALASKA_BANDS, 0.07)
    dots(base, ALASKA, dy_b, lon, lat, np.where(kind == 0, -0.4, 0.2) + offsets[ids % 7] * 0.7, grav_norm, s=1.5)
    dots(base, ALASKA, dy_b, B_HOT_LON, B_HOT_LAT, np.array(B_HOT_VAL, float), grav_norm, s=5, zorder=3)
    k_vals = cell_values(K_GRID, 64.83, 1 / 3, -154.75, 0.75, lat, lon)
    dots(base, ALASKA, dy_k, lon, lat, k_vals, rel_norm, s=2.0)
    lon, lat, kind, ids = track_points(ALASKA, ALASKA_BANDS, 0.12)
    k_vals = cell_values(K_GRID, 64.83, 1 / 3, -154.75, 0.75, lat, lon)
    e_vals = np.array([0.28, 0.45, 0.85])[np.digitize(k_vals, [0.4, 0.7])]
    dots(base, ALASKA, dy_e, lon, lat, e_vals, err_norm, s=0.6, alpha=0.4)
    sized_dots(base, ALASKA, dy_e, E_HOT_LON, E_HOT_LAT, E_HOT_VAL, err_norm, 85)
    sized_dots(base, ALASKA, dy_e, E_CROSS_LON, E_CROSS_LAT, E_CROSS_VAL, err_norm, 85)
    crosses(base, ALASKA, dy_e, E_CROSS_LON, E_CROSS_LAT)
    draw_coast(base, ALASKA, dy_b, alaska_coasts)
    draw_coast(base, ALASKA, dy_e, alaska_coasts)
    draw_coast(base, ALASKA, dy_k, alaska_coasts, halo=True)

    # --- gulf column
    dy_c, dy_f, dy_l = columns[2][1]
    lon, lat, kind, ids = track_points(GULF, GULF_BANDS, 0.05)
    line_lons = np.array(GULF_LINE_LON[10:31])
    central = (lon > -89.35) & (lon < -85.75)
    col = np.abs(lon[:, None] - line_lons).argmin(axis=1)
    row = np.clip(np.round((31.8 - lat) / 0.3).astype(int), 0, C_GRID.shape[0] - 1)
    c_vals = C_GRID[row, col].astype(float)
    pale = cell_values(C_PALE, 31.75, 0.5, -90.75, 0.5, lat, lon) * 0.9 + offsets[ids % 7]
    rings(base, GULF, dy_c, lon[~central], lat[~central], pale[~central], grav_norm, s=10, alpha=0.7)
    rings(base, GULF, dy_c, lon[central], lat[central], c_vals[central], grav_norm, s=10, alpha=0.85)

    err_vals = np.array(F_LEVELS)[np.abs(c_vals).astype(int)]
    pale_x, pale_y = lon[~central][::2], lat[~central][::2]
    dots(base, GULF, dy_f, pale_x, pale_y, np.where(ids[~central][::2] % 2 == 0, 0.3, 0.45), err_norm, s=0.6, alpha=0.4)
    sized_dots(base, GULF, dy_f, lon[central], lat[central], err_vals[central], err_norm, 45)
    tall = MarkerStyle("o", transform=Affine2D().scale(0.9, 1.15))
    sized_dots(base, GULF, dy_f, F_HOT_LON, F_HOT_LAT, F_HOT_VAL, err_norm, 115, marker=tall)
    sized_dots(base, GULF, dy_f, F_CROSS_LON, F_CROSS_LAT, F_CROSS_VAL, err_norm, 125, marker=tall)
    crosses(base, GULF, dy_f, F_CROSS_LON, F_CROSS_LAT, s=30)

    lon, lat, kind, ids = track_points(GULF, GULF_BANDS, 0.025)
    dots(base, GULF, dy_l, lon, lat, cell_values(L_GRID, 31.75, 0.5, -90.75, 0.5, lat, lon), rel_norm, s=2.6)
    draw_coast(base, GULF, dy_c, gulf_coasts)
    draw_coast(base, GULF, dy_f, gulf_coasts)
    draw_coast(base, GULF, dy_l, gulf_coasts, halo=True)

    # --- histograms
    draw_hist(fig, (68.3, 365, 742.7, 979.3), G_START, G_WIDTH, G_COUNTS, G_PDF_X, G_PDF_Y, 0.2, (288.5, 860))
    draw_hist(fig, (489.3, 786, 742.7, 979.3), H_START, H_WIDTH, H_COUNTS, H_PDF_X, H_PDF_Y, 0.5, (637.8, 945))
    draw_hist(fig, (910, 1206.7, 742.7, 979.3), I_START, I_WIDTH, I_COUNTS, I_PDF_X, I_PDF_Y, 0.7, (1058, 945))

    # --- colorbars
    draw_colorbar(base, fig, (1209, 1227, 13, 283), grav_norm, [-10, -5, 0, 5, 10], ["-10", "-5", "0", "5", "10"], "gravity disturbances [mgal]")
    draw_colorbar(base, fig, (1209, 1227, 371, 640), err_norm, [0.1, 0.2, 0.5, 1, 2, 3, 4, 5], ["0.1", "0.2", "0.5", "1", "2", "3", "4", "5"], "normalized error")
    draw_colorbar(base, fig, (1209, 1227, 1072, 1342), rel_norm, [0, 0.2, 0.4, 0.6, 0.8, 1], ["0", "0.2", "0.4", "0.6", "0.8", "1"], "normalized error")

    # --- panel letters
    letters = "abcdefghijkl"
    for idx, letter in enumerate(letters):
        x = [186, 607, 1052][idx % 3]
        y = [346, 704, 1046, 1404][idx // 3]
        base.text(x, y, f"({letter})", fontsize=15, fontweight="bold", color="black", ha="center", va="center")

    base.set_xlim(0, W)
    base.set_ylim(H, 0)
    base.axis("off")
    fig.savefig("out.png", dpi=100)
    plt.close(fig)


if __name__ == "__main__":
    main()
